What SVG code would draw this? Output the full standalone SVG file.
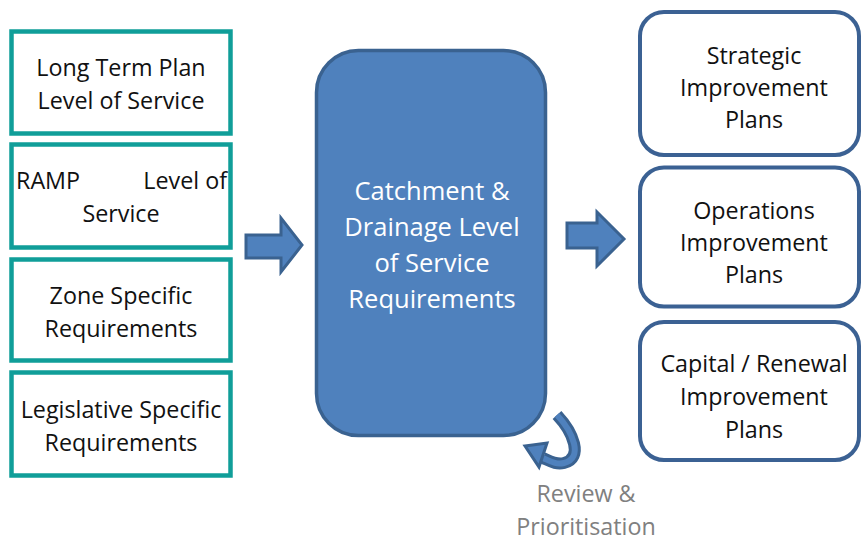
<svg xmlns="http://www.w3.org/2000/svg" width="861" height="542" viewBox="0 0 861 542">
  <style>
    .src { fill: #ffffff; stroke: #109e99; stroke-width: 4.5; }
    .plan { fill: #ffffff; stroke: #3b6193; stroke-width: 4; }
    .hub { fill: #4f81bd; stroke: #3a6290; stroke-width: 3.5; }
    .blk { fill: #4f81bd; stroke: #3a6290; stroke-width: 3; stroke-linejoin: miter; }
    text { font-family: "Open Sans", "Liberation Sans", sans-serif; font-size: 23.3px; text-anchor: middle; }
    .dark { fill: #111111; }
    .light { fill: #ffffff; font-size: 25.5px; }
    .note { fill: #808080; }
  </style>

  <!-- input requirement boxes -->
  <g id="long-term-plan">
    <rect class="src" x="11.5" y="31.5" width="219" height="102"/>
    <text class="dark" x="121" y="76">Long Term Plan</text>
    <text class="dark" x="121" y="109">Level of Service</text>
  </g>
  <g id="ramp">
    <rect class="src" x="11.5" y="144.5" width="219" height="103"/>
    <text class="dark" x="16" y="189" style="text-anchor:start">RAMP</text>
    <text class="dark" x="227" y="189" style="text-anchor:end">Level of</text>
    <text class="dark" x="121" y="222">Service</text>
  </g>
  <g id="zone-specific">
    <rect class="src" x="11.5" y="259.5" width="219" height="101"/>
    <text class="dark" x="121" y="304">Zone Specific</text>
    <text class="dark" x="121" y="337">Requirements</text>
  </g>
  <g id="legislative-specific">
    <rect class="src" x="11.5" y="372.5" width="219" height="103"/>
    <text class="dark" x="121" y="418">Legislative Specific</text>
    <text class="dark" x="121" y="451">Requirements</text>
  </g>

  <!-- central requirements block -->
  <g id="catchment-drainage">
    <rect class="hub" x="316.5" y="50.5" width="229" height="385" rx="42" ry="42"/>
    <text class="light" x="432" y="200">Catchment &amp;</text>
    <text class="light" x="432" y="236">Drainage Level</text>
    <text class="light" x="432" y="272">of Service</text>
    <text class="light" x="432" y="308">Requirements</text>
  </g>

  <!-- output plan boxes -->
  <g id="strategic">
    <rect class="plan" x="640" y="12" width="219" height="143" rx="24" ry="24"/>
    <text class="dark" x="754" y="64">Strategic</text>
    <text class="dark" x="754" y="96">Improvement</text>
    <text class="dark" x="754" y="128">Plans</text>
  </g>
  <g id="operations">
    <rect class="plan" x="640" y="167.5" width="219" height="139" rx="24" ry="24"/>
    <text class="dark" x="754" y="219">Operations</text>
    <text class="dark" x="754" y="251">Improvement</text>
    <text class="dark" x="754" y="283">Plans</text>
  </g>
  <g id="capital-renewal">
    <rect class="plan" x="640" y="322" width="219" height="138" rx="24" ry="24"/>
    <text class="dark" x="754" y="372">Capital / Renewal</text>
    <text class="dark" x="754" y="405">Improvement</text>
    <text class="dark" x="754" y="438">Plans</text>
  </g>

  <!-- connectors -->
  <g id="connectors">
    <polygon class="blk" points="246,235 281,235 281,218 302,245 281,272 281,258 246,258"/>
    <polygon class="blk" points="567,223 597,223 597,212 624,239 597,266 597,248 567,248"/>
    <!-- review loop arrow -->
    <path d="M557,415 C573,432 584,458 564,463 C556,465 550,461 543,458" fill="none" stroke="#3a6290" stroke-width="12" stroke-linecap="butt"/>
    <path d="M557,415 C573,432 584,458 564,463 C556,465 550,461 543,458" fill="none" stroke="#4f81bd" stroke-width="6" stroke-linecap="butt"/>
    <polygon points="525,446 547,443 539,467" fill="#4f81bd" stroke="#3a6290" stroke-width="3" stroke-linejoin="miter"/>
  </g>

  <g id="review-label">
    <text class="note" x="586" y="502">Review &amp;</text>
    <text class="note" x="586" y="535">Prioritisation</text>
  </g>
</svg>
